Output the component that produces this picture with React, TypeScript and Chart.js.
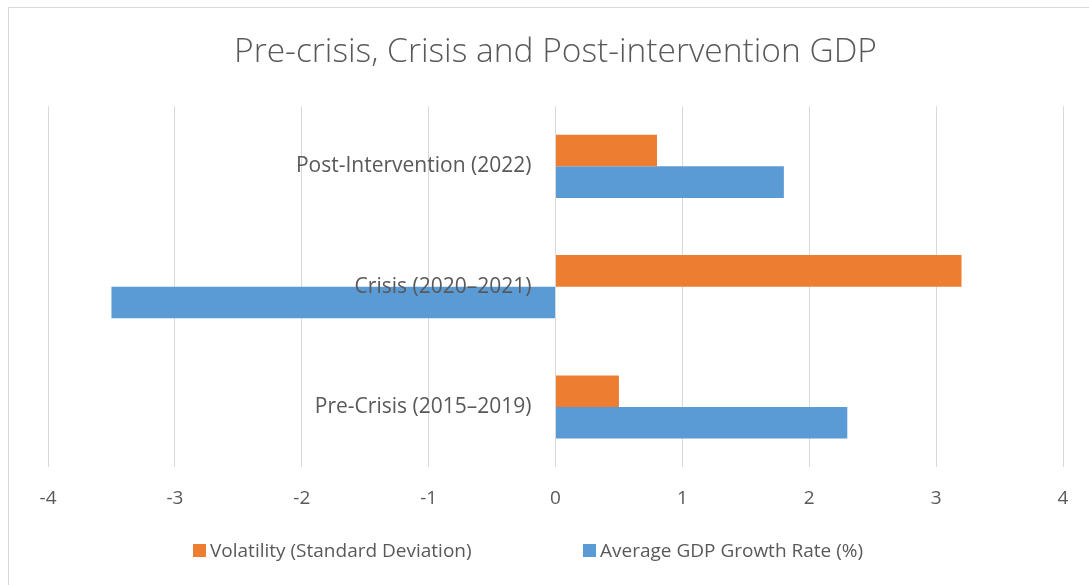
import React, { useEffect, useRef } from "react";
import { Chart, registerables } from "chart.js";

Chart.register(...registerables);

const categories = ["Post-Intervention (2022)", "Crisis (2020–2021)", "Pre-Crisis (2015–2019)"];
const volatility = [0.8, 3.2, 0.5];
const gdpGrowth = [1.8, -3.5, 2.3];
const seriesNames = ["Volatility (Standard Deviation)", "Average GDP Growth Rate (%)"];
const seriesColors = ["#ED7D31", "#5B9BD5"];
const titleText = "Pre-crisis, Crisis and Post-intervention GDP";

const FONT = "'Open Sans', Lato, sans-serif";
const TEXT = "#595959";

export default function App() {
  const ref = useRef<HTMLCanvasElement | null>(null);

  useEffect(() => {
    if (!ref.current) return;
    const chart = new Chart(ref.current, {
      type: "bar",
      data: {
        labels: categories,
        datasets: [
          { label: seriesNames[0], data: volatility, backgroundColor: seriesColors[0] },
          { label: seriesNames[1], data: gdpGrowth, backgroundColor: seriesColors[1] },
        ],
      },
      options: {
        indexAxis: "y",
        animation: false,
        responsive: false,
        maintainAspectRatio: false,
        categoryPercentage: 0.525,
        barPercentage: 1,
        layout: { padding: { left: 48, right: 26, top: 0, bottom: 55 } },
        plugins: {
          legend: { display: false },
          tooltip: { enabled: false },
          title: {
            display: true,
            text: titleText,
            color: TEXT,
            font: { family: FONT, size: 33.5, weight: "300" as any },
            padding: { top: 32, bottom: 34 },
          },
        },
        scales: {
          x: {
            type: "linear",
            min: -4,
            max: 4,
            ticks: { stepSize: 1, color: TEXT, font: { family: FONT, size: 19 }, padding: 20 },
            grid: { color: "#D9D9D9", lineWidth: 1, drawTicks: false },
            border: { display: false },
          },
          y: {
            type: "category",
            position: { x: -0.19 } as any,
            ticks: { color: TEXT, font: { family: FONT, size: 21 }, padding: 0, z: 1 } as any,
            grid: { display: false, drawTicks: false },
            border: { display: false },
          },
        },
      },
    });
    return () => chart.destroy();
  }, []);

  return (
    <div style={{ position: "fixed", left: 0, top: 0, width: 1089, height: 585, background: "#fff", overflow: "hidden" }}>
      <div
        style={{
          position: "absolute",
          left: 8,
          top: 7,
          width: 1100,
          height: 590,
          border: "1px solid #D9D9D9",
          boxSizing: "border-box",
        }}
      />
      <canvas ref={ref} width={1089} height={585} style={{ position: "absolute", left: 0, top: 0 }} />
      <div
        style={{
          position: "absolute",
          top: 538,
          left: 0,
          width: 1089,
          height: 24,
          fontFamily: FONT,
          fontSize: 19,
          color: TEXT,
        }}
      >
        {seriesNames.map((name, i) => (
          <div
            key={name}
            style={{
              position: "absolute",
              left: i === 0 ? 193 : 583,
              top: 0,
              height: 24,
              display: "flex",
              alignItems: "center",
              whiteSpace: "nowrap",
            }}
          >
            <span style={{ display: "inline-block", width: 13, height: 13, background: seriesColors[i], marginRight: 4 }} />
            <span>{name}</span>
          </div>
        ))}
      </div>
    </div>
  );
}
